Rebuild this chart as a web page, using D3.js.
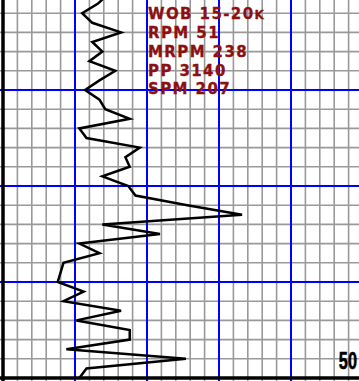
<!DOCTYPE html>
<html>
<head>
<meta charset="utf-8">
<script src="https://cdn.jsdelivr.net/npm/d3@7"></script>
<style>
  html, body { margin: 0; padding: 0; background: #fff; overflow: hidden; }
  svg { display: block; }
</style>
</head>
<body>
<svg id="log" width="359" height="381"></svg>
<script>
// Depth (ft) and rate of penetration readings for the interval
const depths = [10, 11, 12, 13, 14, 15, 16, 17, 18, 19, 20, 21, 22, 23, 24, 25, 26, 27, 28, 29,
                30, 31, 32, 33, 34, 35, 36, 37, 38, 39, 40, 41, 42, 43, 44, 45, 46, 47, 48, 49, 50];
const rop    = [73, 66, 55, 62, 82, 62, 69, 60, 78, 67, 57, 67, 71, 88, 53, 58, 95, 85, 88, 69,
                87, 92, 128, 166, 69, 109, 53, 67, 42, 40, 38, 56, 42, 82, 51, 88, 88, 44, 127, 58, 53];

// Drilling parameters noted on the track
const params = ["WOB 15-20", "RPM 51", "MRPM 238", "PP 3140", "SPM 207"];
const paramSuffix = ["K", "", "", "", ""];

// Depth labels along the right edge
const depthLabels = [50];

const W = 359, H = 381;
const svg = d3.select("#log");

const x = d3.scaleLinear().domain([0, 250]).range([3, 363]);
const y = d3.scaleLinear().domain([10, 50]).range([-6, 378]);

// Grid: minor every 10 units / 2 ft, major every 50 units / 10 ft
const xMinor = d3.range(0, 251, 10);
const yMinor = d3.range(10, 51, 2);

const grid = svg.append("g");
grid.selectAll("line.vminor").data(xMinor.filter(v => v % 50 !== 0)).join("line")
  .attr("x1", d => x(d)).attr("x2", d => x(d)).attr("y1", 0).attr("y2", H)
  .attr("stroke", "#999").attr("stroke-width", 1.6);
grid.selectAll("line.hminor").data(yMinor.filter(v => v % 10 !== 0)).join("line")
  .attr("y1", d => y(d)).attr("y2", d => y(d)).attr("x1", 0).attr("x2", W)
  .attr("stroke", "#999").attr("stroke-width", 1.6);

grid.selectAll("line.vmajor").data(xMinor.filter(v => v % 50 === 0 && v > 0)).join("line")
  .attr("x1", d => x(d)).attr("x2", d => x(d)).attr("y1", 0).attr("y2", H)
  .attr("stroke", "#0000ff").attr("stroke-width", 2);
grid.selectAll("line.hmajor").data(yMinor.filter(v => v % 10 === 0 && v < 50)).join("line")
  .attr("y1", d => y(d)).attr("y2", d => y(d)).attr("x1", 0).attr("x2", W)
  .attr("stroke", "#0000ff").attr("stroke-width", 2);

// Track borders
svg.append("line").attr("x1", x(0)).attr("x2", x(0)).attr("y1", 0).attr("y2", H)
  .attr("stroke", "#000").attr("stroke-width", 3.5);
svg.append("line").attr("x1", 0).attr("x2", W).attr("y1", y(50)).attr("y2", y(50))
  .attr("stroke", "#000").attr("stroke-width", 3.5);

// Parameter notes
const notes = svg.append("g")
  .attr("fill", "#8c1010")
  .attr("stroke", "#8c1010")
  .attr("stroke-width", 0.3)
  .attr("font-family", "'DejaVu Sans', sans-serif")
  .attr("font-weight", "bold")
  .attr("font-size", 15)
  .attr("letter-spacing", 1.4);
params.forEach((p, i) => {
  const t = notes.append("text").attr("x", 148).attr("y", 19.3 + i * 18.75).text(p);
  if (paramSuffix[i]) t.append("tspan").attr("font-size", 12).text(paramSuffix[i]);
});

// ROP curve
const line = d3.line().x((d, i) => x(rop[i])).y(d => y(d));
svg.append("path").datum(depths)
  .attr("d", line)
  .attr("fill", "none")
  .attr("stroke", "#000")
  .attr("stroke-width", 2.5)
  .attr("stroke-linejoin", "miter");

// Depth labels, drawn in a condensed bold face
svg.selectAll("text.depth").data(depthLabels).join("text")
  .attr("class", "depth")
  .attr("transform", d => `translate(357,${y(d) - 9.5}) scale(0.68,1)`)
  .attr("text-anchor", "end")
  .attr("font-family", "'Liberation Sans', Arial, sans-serif")
  .attr("font-weight", "bold")
  .attr("font-size", 24)
  .attr("fill", "#000")
  .attr("stroke", "#000")
  .attr("stroke-width", 0.6)
  .text(d => d);
</script>
</body>
</html>
